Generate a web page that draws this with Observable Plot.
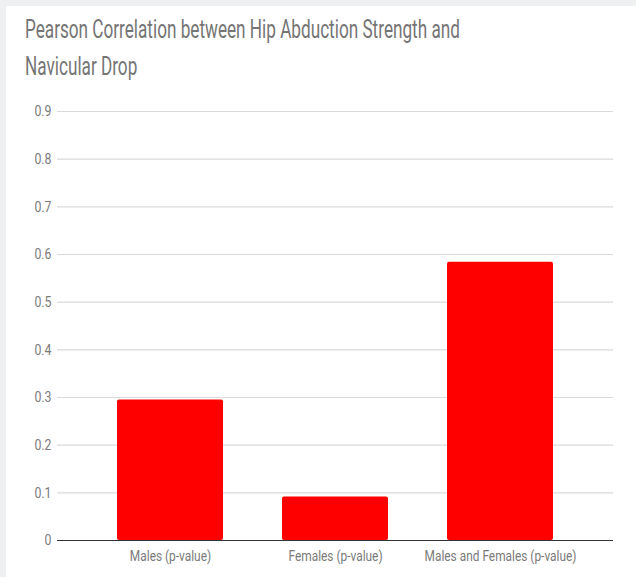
<!DOCTYPE html>
<html>
<head>
<meta charset="utf-8">
<script src="https://cdn.jsdelivr.net/npm/d3@7"></script>
<script src="https://cdn.jsdelivr.net/npm/@observablehq/plot@0.6"></script>
<style>
  html, body { margin: 0; padding: 0; }
  body { width: 636px; height: 577px; background: #eef0f2; position: relative; overflow: hidden;
         font-family: Roboto, "Open Sans", sans-serif; }
  #panel { position: absolute; left: 6px; top: 6px; width: 630px; height: 571px; background: #fff; }
  #title { position: absolute; left: 25px; top: 11px; width: 665px; font-size: 26px; line-height: 37px; color: #757575;
           transform: scaleX(0.66); transform-origin: 0 0; white-space: normal; }
  #chart { position: absolute; left: 0; top: 95px; }
  #chart svg text { font-family: Roboto, sans-serif; }
</style>
</head>
<body>
<div id="panel"></div>
<div id="title">Pearson Correlation between Hip Abduction Strength and Navicular Drop</div>
<div id="chart"></div>
<script>
const categories = ["Males (p-value)", "Females (p-value)", "Males and Females (p-value)"];
const values = [0.295, 0.091, 0.584];
const yTicks = [0, 0.1, 0.2, 0.3, 0.4, 0.5, 0.6, 0.7, 0.8, 0.9];

const data = categories.map((c, i) => ({category: c, value: values[i]}));

const chart = Plot.plot({
  width: 636,
  height: 482,
  marginLeft: 57,
  marginRight: 23,
  marginTop: 16,
  marginBottom: 37,
  style: {background: "transparent", color: "#757575", fontSize: "12px"},
  x: {domain: categories, padding: 0.355, label: null},
  y: {domain: [0, 0.9], label: null},
  marks: [
    Plot.ruleY(yTicks.filter(d => d > 0), {stroke: "#dadada", strokeWidth: 1.2}),
    Plot.axisY({ticks: yTicks, tickSize: 0, tickPadding: 6, tickFormat: d => d === 0 ? "0" : String(d), fontSize: 15, fill: "#7a7a7a"}),
    Plot.axisX({tickSize: 0, tickPadding: 11, fontSize: 14, fill: "#7a7a7a"}),
    Plot.barY(data, {x: "category", y: "value", fill: "#ff0000", rx: 2}),
    Plot.ruleY([0], {stroke: "#333", strokeWidth: 1.2})
  ]
});
document.getElementById("chart").appendChild(chart);

// condense the axis labels horizontally to mimic a condensed typeface
function condense(axis, k) {
  chart.querySelectorAll("text").forEach(t => {
    const g = t.closest("g[aria-label]");
    if (!g || !g.getAttribute("aria-label").startsWith(axis + "-axis")) return;
    const len = t.getComputedTextLength();
    if (len > 0) {
      t.setAttribute("textLength", (len * k).toFixed(2));
      t.setAttribute("lengthAdjust", "spacingAndGlyphs");
    }
  });
}
condense("y", 0.82);
condense("x", 0.85);
</script>
</body>
</html>
